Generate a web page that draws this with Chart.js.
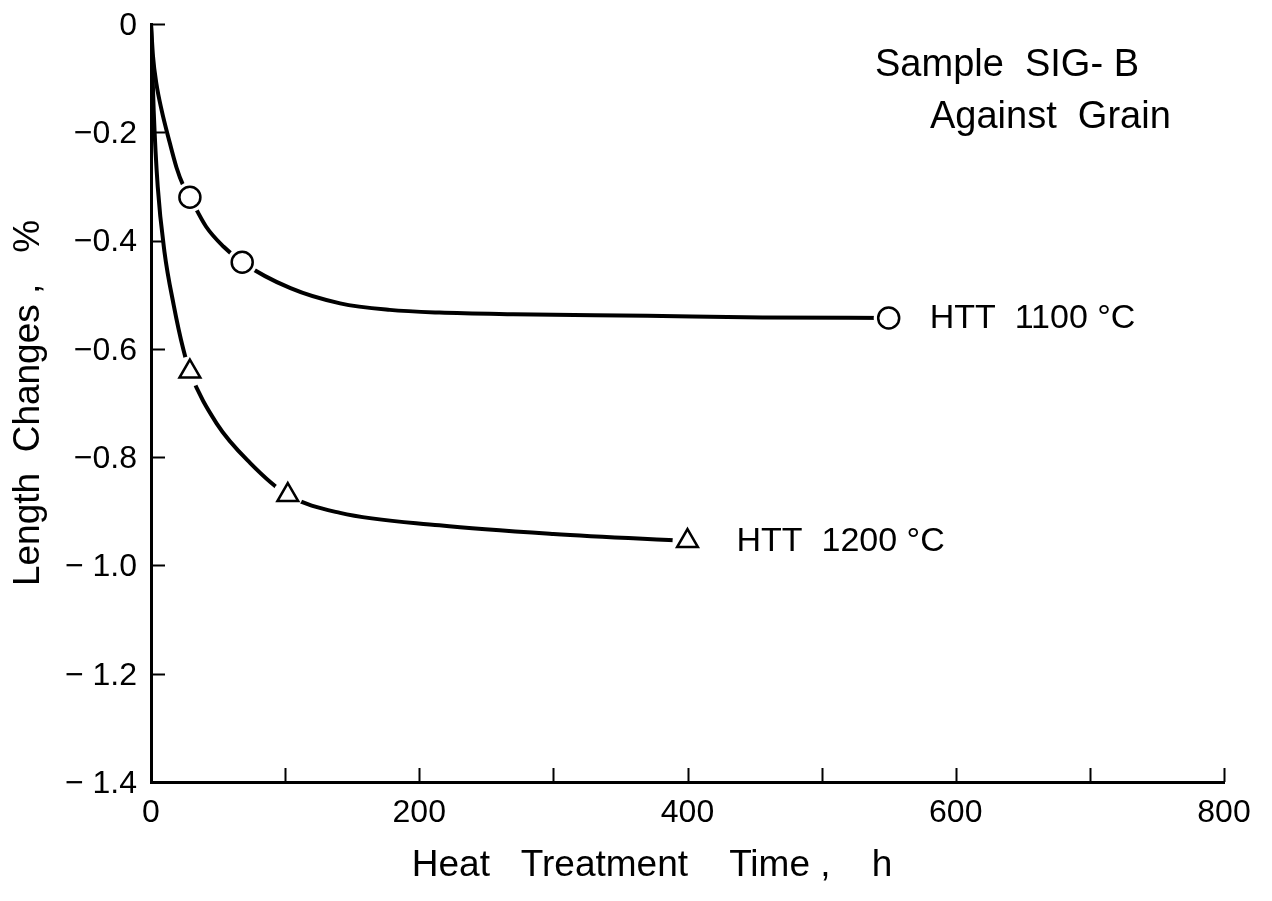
<!DOCTYPE html>
<html>
<head>
<meta charset="utf-8">
<script src="https://cdn.jsdelivr.net/npm/chart.js@4.4.0/dist/chart.umd.min.js"></script>
<style>
  html, body { margin: 0; padding: 0; background: #fff; }
  #wrap { width: 1272px; height: 901px; }
</style>
</head>
<body>
<div id="wrap"><canvas id="lenChart"></canvas></div>
<script>
// measured points (markers)
const htt1100Time = [29, 68, 550];
const htt1100Change = [-0.32, -0.44, -0.543];
const htt1200Time = [29, 102, 400];
const htt1200Change = [-0.642, -0.87, -0.955];

// hand-drawn curves
const curve1100Time = [0, 1.5, 4, 8, 13, 19, 24, 29, 41, 54, 68, 104, 141, 178, 215, 270, 370, 456, 550];
const curve1100Change = [0, -0.06, -0.11, -0.16, -0.21, -0.265, -0.298, -0.32, -0.374, -0.411, -0.44, -0.488, -0.516, -0.528, -0.533, -0.536, -0.539, -0.542, -0.543];
const curve1200Time = [0, 2, 5, 10, 17, 24, 29, 49, 74, 102, 141, 215, 300, 400];
const curve1200Change = [0, -0.16, -0.3, -0.42, -0.52, -0.6, -0.642, -0.738, -0.811, -0.87, -0.903, -0.926, -0.942, -0.955];

// axes
const xTickValues = [0, 100, 200, 300, 400, 500, 600, 700, 800];
const xTickLabels = ['0', '', '200', '', '400', '', '600', '', '800'];
const yTickValues = [0, -0.2, -0.4, -0.6, -0.8, -1.0, -1.2, -1.4];
const yTickLabels = ['0', '\u22120.2', '\u22120.4', '\u22120.6', '\u22120.8', '\u2212 1.0', '\u2212 1.2', '\u2212 1.4'];

const seriesNames = ['HTT  1100 \u00b0C', 'HTT  1200 \u00b0C'];

const FONT = '"Liberation Sans", Arial, sans-serif';

function pts(xs, ys) {
  return xs.map((x, i) => ({ x: x, y: ys[i] }));
}

const decor = {
  id: 'decor',
  afterDraw(chart) {
    const ctx = chart.ctx;
    const xs = chart.scales.x, ys = chart.scales.y;
    const area = chart.chartArea;
    ctx.save();
    ctx.strokeStyle = '#000';
    ctx.lineWidth = 2;
    // inward ticks
    yTickValues.forEach(v => {
      const py = Math.round(ys.getPixelForValue(v)) + 0.5;
      ctx.beginPath();
      ctx.moveTo(area.left, py);
      ctx.lineTo(area.left + 14, py);
      ctx.stroke();
    });
    xTickValues.forEach(v => {
      const px = Math.round(xs.getPixelForValue(v)) + 0.5;
      ctx.beginPath();
      ctx.moveTo(px, area.bottom);
      ctx.lineTo(px, area.bottom - 14);
      ctx.stroke();
    });

    ctx.fillStyle = '#000';
    // tick labels
    ctx.font = '32px ' + FONT;
    ctx.textBaseline = 'middle';
    ctx.textAlign = 'right';
    yTickValues.forEach((v, i) => {
      ctx.fillText(yTickLabels[i], area.left - 14, ys.getPixelForValue(v) + 2);
    });
    ctx.textAlign = 'center';
    xTickValues.forEach((v, i) => {
      if (xTickLabels[i]) ctx.fillText(xTickLabels[i], xs.getPixelForValue(v), area.bottom + 31);
    });

    ctx.textBaseline = 'alphabetic';
    ctx.textAlign = 'left';
    ctx.font = '38px ' + FONT;
    ctx.fillText('Sample  SIG- B', 875, 76);
    ctx.fillText('Against  Grain', 930, 128);

    // series labels next to last marker
    ctx.font = '34px ' + FONT;
    ctx.textBaseline = 'middle';
    const n1 = htt1100Time.length - 1, n2 = htt1200Time.length - 1;
    ctx.fillText(seriesNames[0], xs.getPixelForValue(htt1100Time[n1]) + 41, ys.getPixelForValue(htt1100Change[n1]) + 1);
    ctx.fillText(seriesNames[1], xs.getPixelForValue(htt1200Time[n2]) + 49, ys.getPixelForValue(htt1200Change[n2]) + 1);

    // axis titles
    ctx.font = '37px ' + FONT;
    ctx.textAlign = 'center';
    ctx.fillText('Heat   Treatment    Time ,    h', 652, 866);
    ctx.translate(29, (area.top + area.bottom) / 2);
    ctx.rotate(-Math.PI / 2);
    ctx.fillText('Length  Changes ,   %', 0, 0);
    ctx.restore();
  }
};

const ctx = document.getElementById('lenChart').getContext('2d');

new Chart(ctx, {
  type: 'scatter',
  data: {
    datasets: [
      {
        label: 'curve 1100',
        data: pts(curve1100Time, curve1100Change),
        showLine: true,
        borderColor: '#000',
        borderWidth: 4,
        pointRadius: 0,
        cubicInterpolationMode: 'monotone',
        order: 3
      },
      {
        label: 'curve 1200',
        data: pts(curve1200Time, curve1200Change),
        showLine: true,
        borderColor: '#000',
        borderWidth: 4,
        pointRadius: 0,
        cubicInterpolationMode: 'monotone',
        order: 3
      },
      {
        label: 'gap 1100',
        data: pts(htt1100Time, htt1100Change),
        pointRadius: 15,
        pointBackgroundColor: '#fff',
        pointBorderWidth: 0,
        borderColor: '#fff',
        order: 2
      },
      {
        label: 'gap 1200',
        data: pts(htt1200Time, htt1200Change),
        pointRadius: 15,
        pointBackgroundColor: '#fff',
        pointBorderWidth: 0,
        borderColor: '#fff',
        order: 2
      },
      {
        label: seriesNames[0],
        data: pts(htt1100Time, htt1100Change),
        pointStyle: 'circle',
        pointRadius: 10.5,
        pointBorderWidth: 2.5,
        pointBorderColor: '#000',
        pointBackgroundColor: '#fff',
        order: 1
      },
      {
        label: seriesNames[1],
        data: pts(htt1200Time, htt1200Change),
        pointStyle: 'triangle',
        pointRadius: 12,
        pointBorderWidth: 2.5,
        pointBorderColor: '#000',
        pointBackgroundColor: '#fff',
        order: 1
      }
    ]
  },
  plugins: [decor],
  options: {
    responsive: true,
    maintainAspectRatio: false,
    animation: false,
    layout: { padding: { top: 24, right: 48, left: 0, bottom: 0 } },
    plugins: {
      legend: { display: false },
      tooltip: { enabled: false },
      title: { display: false }
    },
    scales: {
      x: {
        type: 'linear',
        min: 0,
        max: 800,
        afterBuildTicks: scale => { scale.ticks = xTickValues.map(v => ({ value: v })); },
        afterFit: scale => { scale.height = 119; },
        grid: { display: true, drawOnChartArea: false, drawTicks: false },
        border: { display: true, color: '#000', width: 3 },
        ticks: { display: false }
      },
      y: {
        type: 'linear',
        min: -1.4,
        max: 0,
        afterBuildTicks: scale => { scale.ticks = yTickValues.map(v => ({ value: v })); },
        afterFit: scale => { scale.width = 151; },
        grid: { display: true, drawOnChartArea: false, drawTicks: false },
        border: { display: true, color: '#000', width: 3 },
        ticks: { display: false }
      }
    }
  }
});
</script>
</body>
</html>
